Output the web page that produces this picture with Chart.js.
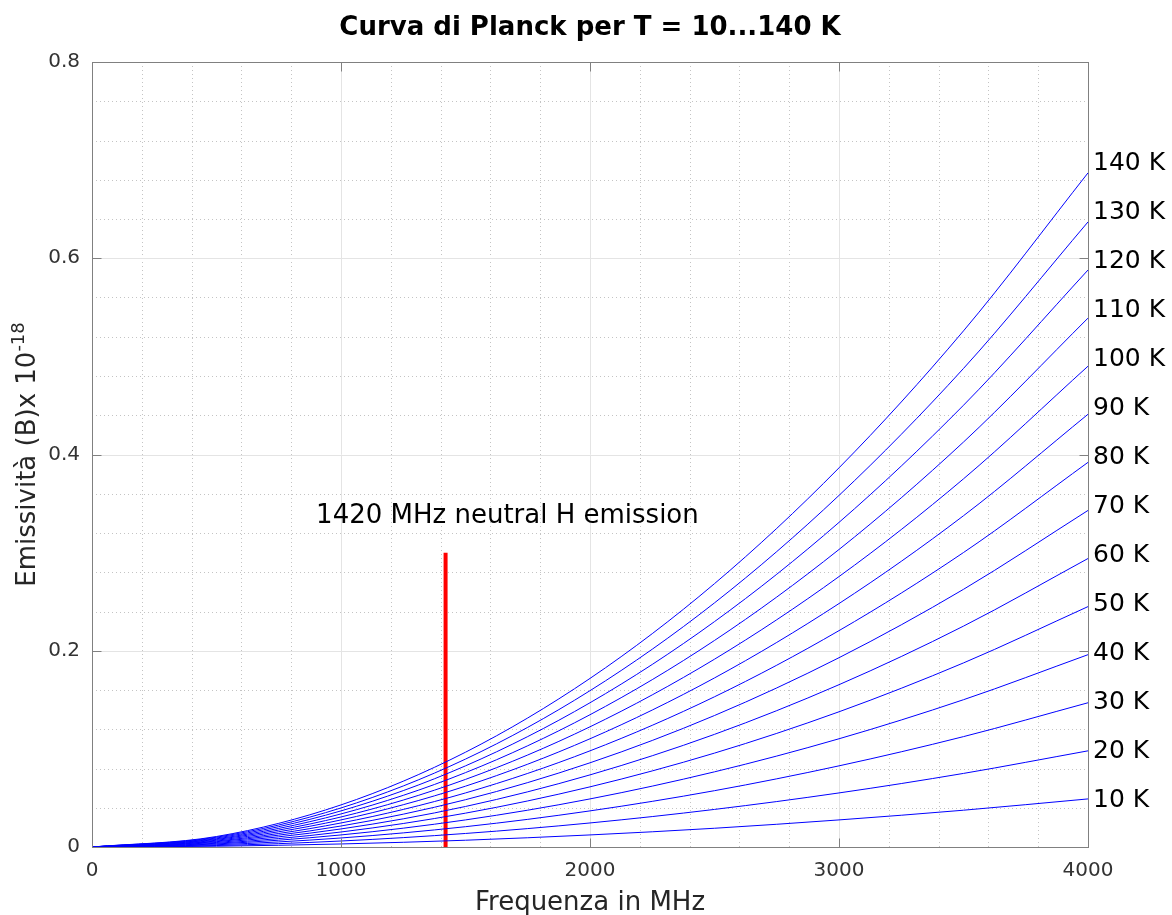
<!DOCTYPE html>
<html>
<head>
<meta charset="utf-8">
<script src="https://cdn.jsdelivr.net/npm/chart.js@4.4.1/dist/chart.umd.min.js"></script>
<style>
  body { margin: 0; background: #fff; }
</style>
</head>
<body>
<canvas id="planck" width="1172" height="915"></canvas>
<script>
// frequency samples (MHz) and emissivity readings (x 1e-18) per temperature
const freqMHz = [0, 500, 1000, 1500, 2000, 2500, 3000, 3500, 4000];
const tempsK = [10, 20, 30, 40, 50, 60, 70, 80, 90, 100, 110, 120, 130, 140];

const b10  = [0, 0.0008, 0.0031, 0.0069, 0.0123, 0.0191, 0.0276, 0.0375, 0.049];
const b20  = [0, 0.0015, 0.0061, 0.0138, 0.0245, 0.0383, 0.0551, 0.0750, 0.098];
const b30  = [0, 0.0023, 0.0092, 0.0207, 0.0368, 0.0574, 0.0827, 0.1125, 0.147];
const b40  = [0, 0.0031, 0.0123, 0.0276, 0.0490, 0.0766, 0.1103, 0.1501, 0.196];
const b50  = [0, 0.0038, 0.0153, 0.0345, 0.0613, 0.0957, 0.1378, 0.1876, 0.245];
const b60  = [0, 0.0046, 0.0184, 0.0413, 0.0735, 0.1148, 0.1654, 0.2251, 0.294];
const b70  = [0, 0.0054, 0.0214, 0.0482, 0.0858, 0.1340, 0.1929, 0.2626, 0.343];
const b80  = [0, 0.0061, 0.0245, 0.0551, 0.0980, 0.1531, 0.2205, 0.3001, 0.392];
const b90  = [0, 0.0069, 0.0276, 0.0620, 0.1103, 0.1723, 0.2481, 0.3376, 0.441];
const b100 = [0, 0.0077, 0.0306, 0.0689, 0.1225, 0.1914, 0.2756, 0.3752, 0.490];
const b110 = [0, 0.0084, 0.0337, 0.0758, 0.1348, 0.2105, 0.3032, 0.4127, 0.539];
const b120 = [0, 0.0092, 0.0368, 0.0827, 0.1470, 0.2297, 0.3308, 0.4502, 0.588];
const b130 = [0, 0.0100, 0.0398, 0.0896, 0.1593, 0.2488, 0.3583, 0.4877, 0.637];
const b140 = [0, 0.0107, 0.0429, 0.0966, 0.1718, 0.2684, 0.3864, 0.5260, 0.687];
const curves = [b10, b20, b30, b40, b50, b60, b70, b80, b90, b100, b110, b120, b130, b140];

// where the "NN K" labels sit on the right (data units)
const labelY = [0.05, 0.10, 0.15, 0.20, 0.25, 0.30, 0.35, 0.40, 0.45, 0.50, 0.55, 0.60, 0.65, 0.70];

// 21 cm line marker
const hLineFreq = 1420;
const hLineTop = 0.3;
const hLabel = '1420 MHz neutral H emission';
const hLabelPos = { x: 900, y: 0.33 };

const xMajor = [0, 1000, 2000, 3000, 4000];
const yMajor = [0, 0.2, 0.4, 0.6, 0.8];
const xMinorStep = 200;
const yMinorStep = 0.04;

const FONT = "'DejaVu Sans', 'Liberation Sans', sans-serif";

const datasets = curves.map((vals, i) => ({
  label: tempsK[i] + ' K',
  data: freqMHz.map((f, j) => ({ x: f, y: vals[j] })),
  borderColor: '#0000ff',
  borderWidth: 1,
  pointRadius: 0,
  showLine: true,
  cubicInterpolationMode: 'monotone'
}));

datasets.push({
  label: 'H',
  data: [{ x: hLineFreq, y: 0 }, { x: hLineFreq, y: hLineTop }],
  borderColor: '#ff0000',
  borderWidth: 4,
  pointRadius: 0,
  showLine: true
});

// grid, box, ticks and all the free text
const decorations = {
  id: 'decorations',
  beforeDatasetsDraw(chart) {
    const { ctx, chartArea: a, scales: { x, y } } = chart;
    ctx.save();
    ctx.lineWidth = 1;

    // minor dotted grid
    ctx.strokeStyle = '#c4c4c4';
    ctx.setLineDash([1, 3]);
    for (let v = xMinorStep; v < 4000; v += xMinorStep) {
      if (v % 1000 === 0) continue;
      const px = Math.round(x.getPixelForValue(v)) + 0.5;
      ctx.beginPath(); ctx.moveTo(px, a.top); ctx.lineTo(px, a.bottom); ctx.stroke();
    }
    for (let k = 1; k < 20; k++) {
      if (k % 5 === 0) continue;
      const py = Math.round(y.getPixelForValue(k * yMinorStep)) + 0.5;
      ctx.beginPath(); ctx.moveTo(a.left, py); ctx.lineTo(a.right, py); ctx.stroke();
    }

    // major solid grid
    ctx.setLineDash([]);
    ctx.strokeStyle = '#e4e4e4';
    xMajor.slice(1, -1).forEach(v => {
      const px = Math.round(x.getPixelForValue(v)) + 0.5;
      ctx.beginPath(); ctx.moveTo(px, a.top); ctx.lineTo(px, a.bottom); ctx.stroke();
    });
    yMajor.slice(1, -1).forEach(v => {
      const py = Math.round(y.getPixelForValue(v)) + 0.5;
      ctx.beginPath(); ctx.moveTo(a.left, py); ctx.lineTo(a.right, py); ctx.stroke();
    });
    ctx.restore();
  },
  afterDraw(chart) {
    const { ctx, chartArea: a, scales: { x, y } } = chart;
    ctx.save();

    // axes box and inward ticks
    ctx.strokeStyle = '#808080';
    ctx.lineWidth = 1;
    const L = Math.round(a.left) + 0.5, R = Math.round(a.right) + 0.5;
    const T = Math.round(a.top) + 0.5, B = Math.round(a.bottom) + 0.5;
    ctx.strokeRect(L, T, R - L, B - T);
    const tl = 9;
    ctx.beginPath();
    xMajor.forEach(v => {
      const px = Math.round(x.getPixelForValue(v)) + 0.5;
      ctx.moveTo(px, B); ctx.lineTo(px, B - tl);
      ctx.moveTo(px, T); ctx.lineTo(px, T + tl);
    });
    yMajor.forEach(v => {
      const py = Math.round(y.getPixelForValue(v)) + 0.5;
      ctx.moveTo(L, py); ctx.lineTo(L + tl, py);
      ctx.moveTo(R, py); ctx.lineTo(R - tl, py);
    });
    ctx.stroke();

    // title
    ctx.fillStyle = '#000';
    ctx.textAlign = 'center';
    ctx.textBaseline = 'alphabetic';
    ctx.font = 'bold 26px ' + FONT;
    ctx.fillText('Curva di Planck per T = 10...140 K', (a.left + a.right) / 2, 35);

    // x title
    ctx.fillStyle = '#262626';
    ctx.font = '26px ' + FONT;
    ctx.fillText('Frequenza in MHz', (a.left + a.right) / 2, 910);

    // y title with superscript
    ctx.save();
    ctx.translate(35, (a.top + a.bottom) / 2);
    ctx.rotate(-Math.PI / 2);
    const main = 'Emissività (B)x 10', sup = '-18';
    ctx.font = '26px ' + FONT;
    const wMain = ctx.measureText(main).width;
    ctx.font = '18px ' + FONT;
    const wSup = ctx.measureText(sup).width;
    const start = -(wMain + wSup) / 2;
    ctx.textAlign = 'left';
    ctx.font = '26px ' + FONT;
    ctx.fillText(main, start, 0);
    ctx.font = '18px ' + FONT;
    ctx.fillText(sup, start + wMain, -11);
    ctx.restore();

    // temperature labels
    ctx.fillStyle = '#000';
    ctx.textAlign = 'left';
    ctx.textBaseline = 'middle';
    ctx.font = '25px ' + FONT;
    const lx = x.getPixelForValue(4000) + 5;
    labelY.forEach((v, i) => ctx.fillText(tempsK[i] + ' K', lx, y.getPixelForValue(v) + 3));

    // line annotation
    ctx.textBaseline = 'alphabetic';
    ctx.font = '26px ' + FONT;
    ctx.fillText(hLabel, x.getPixelForValue(hLabelPos.x), y.getPixelForValue(hLabelPos.y));
    ctx.restore();
  }
};

new Chart(document.getElementById('planck'), {
  type: 'scatter',
  data: { datasets },
  options: {
    responsive: false,
    animation: false,
    devicePixelRatio: 1,
    layout: { padding: { top: 62, right: 84, left: 0, bottom: 0 } },
    plugins: { legend: { display: false }, tooltip: { enabled: false } },
    scales: {
      x: {
        type: 'linear',
        min: 0, max: 4000,
        ticks: {
          stepSize: 1000,
          padding: 12,
          color: '#333333',
          font: { family: FONT, size: 20 },
          maxRotation: 0,
          callback: v => String(v)
        },
        grid: { display: false, drawTicks: false },
        border: { display: false },
        afterFit(s) { s.height = 68; }
      },
      y: {
        type: 'linear',
        min: 0, max: 0.8,
        ticks: {
          stepSize: 0.2,
          padding: 12,
          color: '#333333',
          font: { family: FONT, size: 20 },
          callback: v => (v === 0 ? '0' : v.toFixed(1))
        },
        grid: { display: false, drawTicks: false },
        border: { display: false },
        afterFit(s) { s.width = 92; }
      }
    }
  },
  plugins: [decorations]
});
</script>
</body>
</html>
